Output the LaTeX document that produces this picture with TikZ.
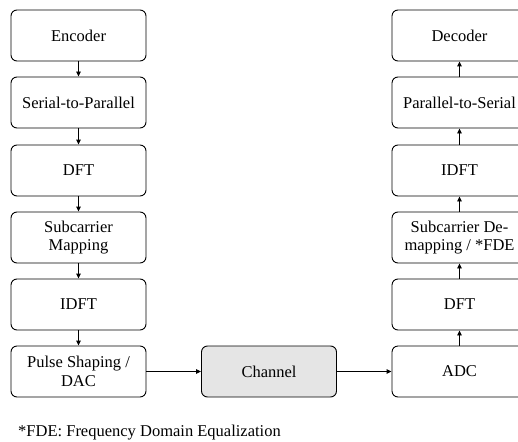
\documentclass[tikz,border=0pt]{standalone}
\usepackage{fontspec}
\setmainfont{Liberation Serif}
\usetikzlibrary{arrows.meta}
\begin{document}
\begin{tikzpicture}[x=1pt,y=-1pt,
  blk/.style={draw=black, line width=0.9pt, rounded corners=6pt, minimum width=135pt, minimum height=51pt, align=center, font=\fontsize{16.5}{18.5}\selectfont, inner sep=1pt},
  arr/.style={-{Triangle[length=5pt,width=4.5pt]}, line width=0.9pt}]
\useasboundingbox (0,0) rectangle (518,441);
\begin{scope}
\clip (0,0) rectangle (518,441);
\node[blk] (enc) at (78.5,35.5) {Encoder};
\node[blk] (s2p) at (78.5,102.5) {Serial-to-Parallel};
\node[blk] (dft) at (78.5,170.5) {DFT};
\node[blk] (map) at (78.5,237.5) {Subcarrier\\Mapping};
\node[blk] (idft) at (78.5,304.5) {IDFT};
\node[blk] (pulse) at (78.5,371.5) {Pulse Shaping /\\DAC};
\node[blk, fill=black!10] (ch) at (269,371.5) {Channel};
\node[blk] (adc) at (459.5,371.5) {ADC};
\node[blk] (rdft) at (459.5,304.5) {DFT};
\node[blk] (demap) at (459.5,237.5) {Subcarrier De-\\mapping / *FDE};
\node[blk] (ridft) at (459.5,170.5) {IDFT};
\node[blk] (p2s) at (459.5,102.5) {Parallel-to-Serial};
\node[blk] (dec) at (459.5,35.5) {Decoder};
\end{scope}
\draw[arr] (enc) -- (s2p);
\draw[arr] (s2p) -- (dft);
\draw[arr] (dft) -- (map);
\draw[arr] (map) -- (idft);
\draw[arr] (idft) -- (pulse);
\draw[arr] (pulse) -- (ch);
\draw[arr] (ch) -- (adc);
\draw[arr] (adc) -- (rdft);
\draw[arr] (rdft) -- (demap);
\draw[arr] (demap) -- (ridft);
\draw[arr] (ridft) -- (p2s);
\draw[arr] (p2s) -- (dec);
\node[anchor=base west, font=\fontsize{16.5}{18.5}\selectfont, inner sep=0pt] (note) at (18,436) {*FDE: Frequency Domain Equalization};
\end{tikzpicture}
\end{document}
